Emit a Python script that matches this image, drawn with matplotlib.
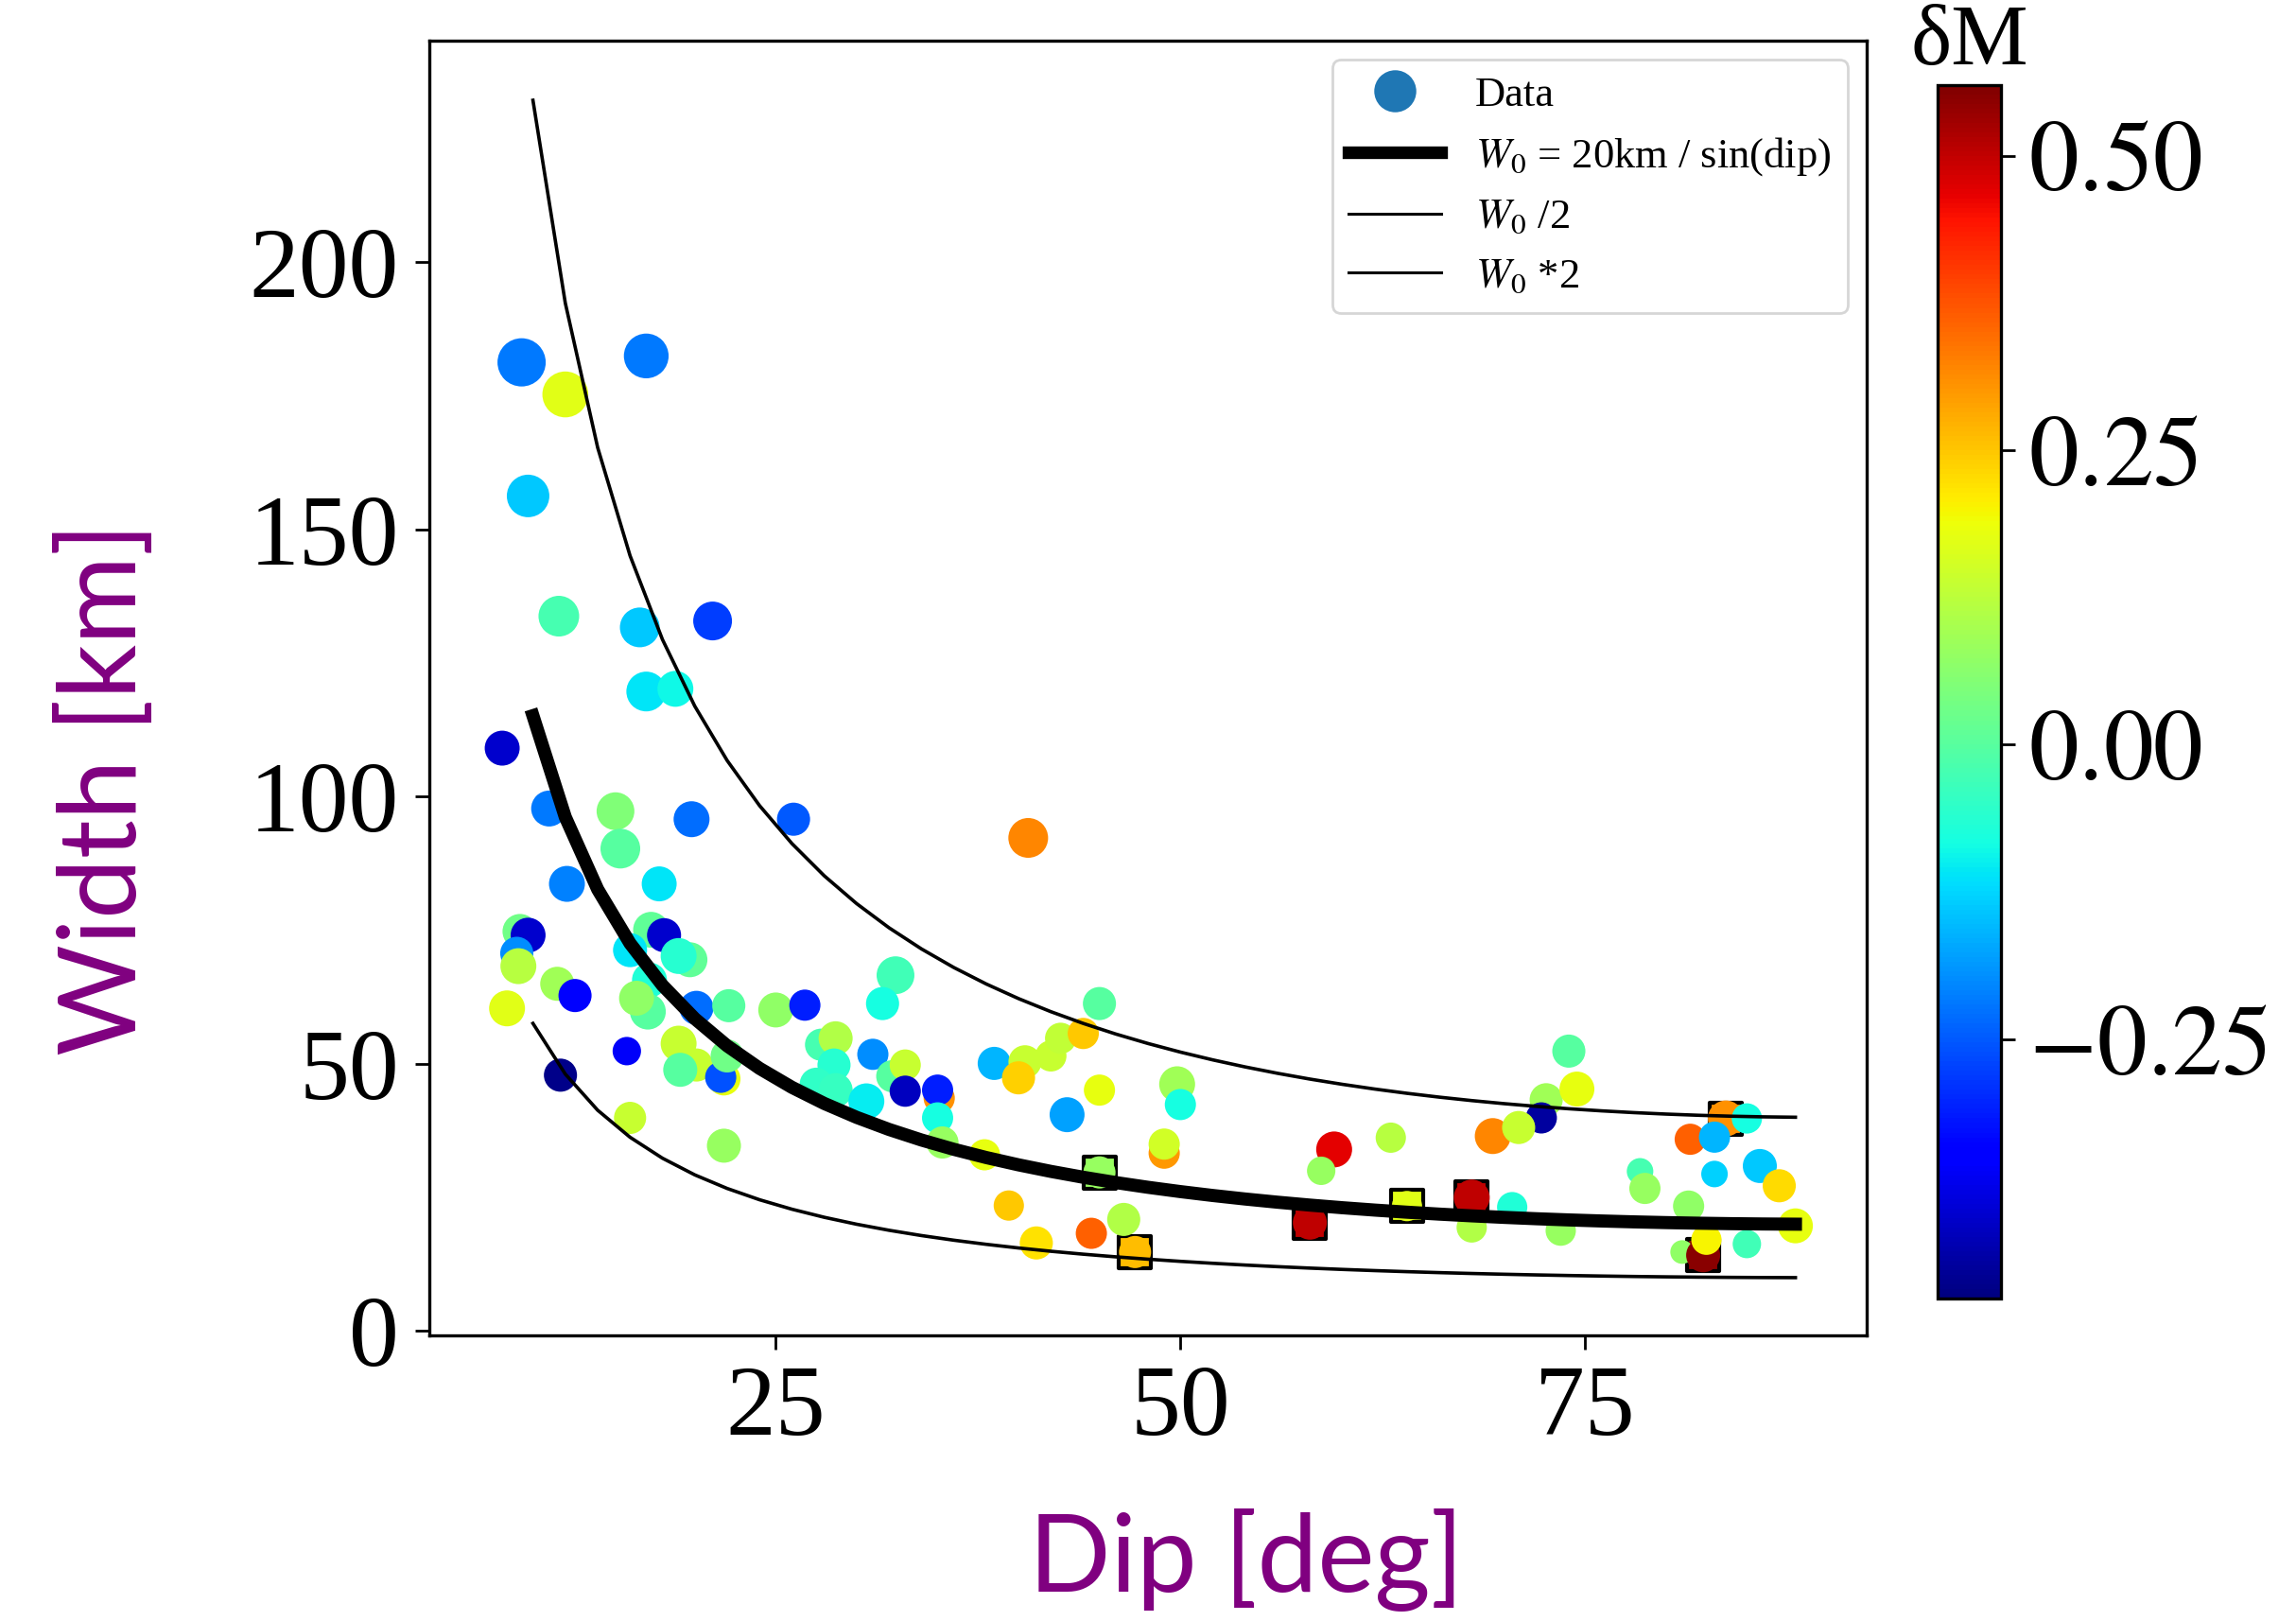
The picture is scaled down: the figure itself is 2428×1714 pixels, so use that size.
import numpy as np
import matplotlib
matplotlib.use("Agg")
import matplotlib.pyplot as plt
from matplotlib.lines import Line2D
from matplotlib.ticker import FuncFormatter

plt.rcParams['font.family'] = ['Liberation Serif', 'DejaVu Serif']
plt.rcParams['mathtext.fontset'] = 'stix'

# fault dip [deg], rupture width [km], magnitude residual and marker area
dip = [9.3, 17.0, 12.0, 9.7, 11.6, 16.6, 21.1, 17.0, 18.8, 8.1,
       11.0, 15.1, 19.8, 26.1, 40.6, 15.4, 12.1, 17.8, 17.3, 18.1,
       9.2, 9.7, 9.0, 16.0, 19.7, 19.0, 9.1, 17.2, 11.5, 12.6,
       17.1, 16.4, 8.4, 20.1, 22.1, 25.0, 26.8, 32.4, 31.6, 15.8,
       19.0, 20.1, 19.1, 21.8, 21.6, 22.0, 11.7, 16.0, 21.8, 27.8,
       28.7, 28.6, 31.0, 27.5, 28.7, 30.6, 32.2, 33.0, 33.0, 35.1,
       35.0, 35.0, 35.3, 37.9, 38.5, 40.4, 40.0, 42.0, 42.6, 44.0,
       45.0, 43.0, 45.0, 49.8, 50.0, 49.0, 49.0, 45.0, 39.4, 46.5,
       44.5, 41.1, 47.2, 59.5, 58.7, 58.0, 63.0, 64.0, 68.0, 68.0,
       70.5, 69.3, 72.6, 72.3, 70.9, 74.0, 74.5, 73.5, 78.4, 78.7,
       81.4, 81.0, 82.3, 82.5, 81.5, 83.7, 83.0, 83.0, 85.0, 85.8,
       87.0, 85.0, 88.0]
width = [181.3, 182.5, 175.3, 156.3, 133.8, 131.7, 132.9, 119.7, 120.2, 109.1,
         97.8, 97.3, 95.8, 95.8, 92.3, 90.3, 83.7, 83.7, 75.1, 74.1,
         74.8, 74.1, 70.7, 71.3, 69.5, 70.2, 68.3, 65.7, 65.0, 62.8,
         59.8, 62.3, 60.4, 60.5, 60.9, 60.1, 61.0, 66.6, 61.3, 52.4,
         53.8, 49.8, 48.9, 47.2, 47.5, 51.5, 47.9, 39.9, 34.7, 53.6,
         54.8, 49.8, 51.8, 46.2, 45.1, 43.0, 47.7, 49.8, 44.9, 43.6,
         45.1, 39.9, 35.3, 33.0, 50.1, 50.4, 47.4, 51.5, 54.8, 55.7,
         61.3, 40.5, 45.1, 46.2, 42.4, 33.3, 35.0, 29.7, 23.5, 20.9,
         18.3, 16.5, 14.8, 34.0, 30.0, 20.3, 36.2, 23.4, 25.0, 19.4,
         23.2, 36.5, 43.3, 39.9, 38.1, 52.4, 45.3, 18.8, 29.9, 26.7,
         23.4, 14.8, 14.2, 17.1, 35.9, 39.8, 36.3, 29.4, 39.8, 30.9,
         27.2, 16.3, 19.7]
dM = [-0.22, -0.22, 0.17, -0.14, -0.02, -0.14, -0.28, -0.11, -0.09, -0.40,
      -0.22, 0.05, -0.23, -0.25, 0.32, 0.00, -0.21, -0.11, 0.01, -0.40,
      0.03, -0.40, -0.20, -0.11, 0.01, -0.06, 0.12, -0.07, 0.09, -0.35,
      0.00, 0.07, 0.17, -0.23, 0.00, 0.07, -0.31, -0.03, -0.08, -0.36,
      0.14, 0.14, 0.00, 0.18, -0.26, 0.03, -0.46, 0.14, 0.08, -0.02,
      0.11, -0.06, -0.20, -0.05, -0.04, -0.10, 0.00, 0.14, -0.41, 0.31,
      -0.31, -0.08, 0.08, 0.18, -0.16, 0.14, 0.24, 0.14, 0.13, 0.25,
      0.00, -0.18, 0.18, 0.09, -0.08, 0.30, 0.15, 0.08, 0.25, 0.11,
      0.36, 0.22, 0.26, 0.47, 0.08, 0.50, 0.12, 0.17, 0.50, 0.11,
      -0.07, 0.32, 0.09, -0.44, 0.14, 0.00, 0.18, 0.08, -0.02, 0.08,
      0.07, 0.07, 0.55, 0.20, 0.36, 0.31, -0.16, -0.13, -0.08, -0.14,
      0.23, -0.03, 0.18]
msize = [337, 290, 305, 262, 240, 229, 218, 229, 187, 177,
         187, 207, 187, 159, 229, 229, 187, 177, 187, 168,
         177, 177, 159, 168, 177, 187, 187, 177, 168, 159,
         187, 177, 187, 168, 159, 177, 141, 207, 159, 117,
         187, 159, 168, 159, 141, 159, 159, 150, 168, 150,
         168, 159, 141, 159, 168, 187, 150, 141, 141, 141,
         141, 141, 150, 141, 159, 159, 159, 141, 141, 141,
         159, 177, 141, 187, 141, 141, 141, 150, 133, 159,
         141, 159, 150, 187, 117, 168, 133, 133, 187, 133,
         133, 187, 159, 141, 159, 159, 177, 133, 102, 141,
         141, 81, 168, 133, 141, 187, 141, 102, 133, 168,
         159, 117, 177]

# events flagged with a square
sq_dip = [45.0, 47.2, 58.0, 64.0, 68.0, 83.7, 82.3]
sq_width = [29.7, 14.8, 20.3, 23.4, 25.0, 39.8, 14.2]
sq_dM = [0.08, 0.26, 0.50, 0.17, 0.50, 0.31, 0.55]

W_ref = 20.0
dip_curve = np.arange(10, 90, 2)
W0 = W_ref / np.sin(np.radians(dip_curve))

vmin, vmax = -0.47, 0.56

fig = plt.figure(figsize=(12.14, 8.57), dpi=200)
ax = fig.add_axes([0.187, 0.1762, 0.626, 0.7987])
cax = fig.add_axes([0.8439, 0.199, 0.0276, 0.7485])

ax.scatter(sq_dip, sq_width, c=sq_dM, cmap='jet', vmin=vmin, vmax=vmax,
           marker='s', s=150, edgecolors='k', linewidths=1.5, zorder=2)
sc = ax.scatter(dip, width, c=dM, cmap='jet', vmin=vmin, vmax=vmax,
                s=msize, edgecolors='none', zorder=3)

ax.plot(dip_curve, W0, 'k-', lw=5, zorder=4)
ax.plot(dip_curve, W0 / 2, 'k-', lw=1.3, zorder=4)
ax.plot(dip_curve, W0 * 2, 'k-', lw=1.3, zorder=4)

ax.set_xlim(3.6, 92.4)
ax.set_ylim(-0.8, 241.5)
ax.set_xticks([25, 50, 75])
ax.set_yticks([0, 50, 100, 150, 200])
ax.tick_params(labelsize=38, length=5.5, width=1, pad=6)
for sp in ax.spines.values():
    sp.set_linewidth(1.2)

ax.set_xlabel('Dip [deg]', family='Lato', fontsize=41, color='purple')
ax.set_ylabel('Width [km]', family='Lato', fontsize=41, color='purple')
ax.xaxis.set_label_coords(0.568, -0.134)
ax.yaxis.set_label_coords(-0.191, 0.422)

handles = [
    Line2D([], [], marker='o', ls='none', color='#1f77b4', markersize=15),
    Line2D([], [], color='k', lw=4.8),
    Line2D([], [], color='k', lw=1.1),
    Line2D([], [], color='k', lw=1.1),
]
labels = ['Data', r'$W_0$ = 20km / sin(dip)', r'$W_0$ /2', r'$W_0$ *2']
ax.legend(handles, labels, loc='upper right', fontsize=16,
          handlelength=2.2, labelspacing=0.5, borderaxespad=0.45)

cb = fig.colorbar(sc, cax=cax, ticks=[-0.25, 0.0, 0.25, 0.5],
                  format=FuncFormatter(lambda v, p: f'${v:.2f}$'))
cb.ax.tick_params(labelsize=38, length=5.5, width=1, pad=5)
cb.outline.set_linewidth(1.2)
cax.set_title('δM', fontsize=33, pad=8)

fig.savefig('out.png', dpi=200)
